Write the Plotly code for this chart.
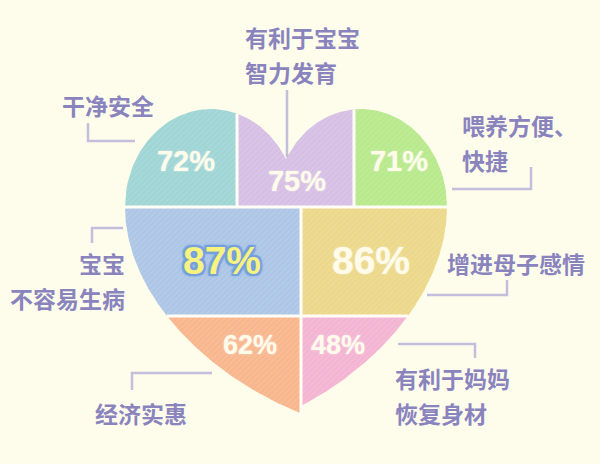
import numpy as np
import plotly.graph_objects as go

# 数据
categories = ["干净安全", "有利于宝宝<br>智力发育", "喂养方便、<br>快捷", "宝宝<br>不容易生病",
              "增进母子感情", "经济实惠", "有利于妈妈<br>恢复身材"]
values = [72, 75, 71, 87, 86, 62, 48]
colors = ["#9fd5d5", "#d6bfe4", "#b8e98c", "#adc6e6", "#ecd88a", "#f8b68d", "#f3b4d2"]

BG = "#fefdec"
GAP = "#fffef6"
TEXT = "#8a84be"
LINE = "#c3bedc"

# 心形几何（像素坐标）
ROW1, ROW2 = 207, 316
COL_A, COL_B, COL_MID = 237, 354, 301
AXIS = 286


def top_y(x):
    cx = np.where(x < AXIS, 211, 361)
    return ROW1 - 98 * np.sqrt(np.clip(1 - ((x - cx) / 86) ** 2, 0, 1))


def bez(p0, p1, p2, p3, n=120):
    t = np.linspace(0, 1, n)[:, None]
    p0, p1, p2, p3 = map(np.array, (p0, p1, p2, p3))
    return (1 - t) ** 3 * p0 + 3 * (1 - t) ** 2 * t * p1 + 3 * (1 - t) * t ** 2 * p2 + t ** 3 * p3


left = bez((125, ROW1), (125, 290), (200, 372), (300, 413))
right = bez((447, ROW1), (447, 285), (385, 362), (301, 406))


def xl(y):
    return np.interp(y, left[:, 1], left[:, 0])


def xr(y):
    return np.interp(y, right[:, 1], right[:, 0])


def top_region(x0, x1):
    xs = np.linspace(x0, x1, 80)
    return list(xs) + [x1, x0], list(top_y(xs)) + [ROW1, ROW1]


def left_region(y0, y1):
    ys = np.linspace(y0, y1, 80)
    return list(xl(ys)) + [COL_MID, COL_MID], list(ys) + [y1, y0]


def right_region(y0, y1):
    ys = np.linspace(y0, y1, 80)
    return list(xr(ys)) + [COL_MID, COL_MID], list(ys) + [y1, y0]


regions = [
    top_region(125, COL_A),
    top_region(COL_A, COL_B),
    top_region(COL_B, 447),
    left_region(ROW1, ROW2),
    right_region(ROW1, ROW2),
    left_region(ROW2, 413),
    right_region(ROW2, 406),
]
label_pos = [(186, 164), (297, 184), (399, 164), (222, 264), (371, 264), (250, 347), (338, 347)]
label_size = [29, 29, 29, 39, 39, 27, 27]

fig = go.Figure()
for (xs, ys), c in zip(regions, colors):
    fig.add_trace(go.Scatter(
        x=xs, y=ys, mode="lines", fill="toself", line=dict(width=0),
        fillcolor=c,
        fillpattern=dict(shape="/", bgcolor=c, fgcolor="white", fgopacity=0.12, size=4, solidity=0.3),
        hoverinfo="skip", showlegend=False,
    ))

# 分隔白线
dividers = [
    ([125, 447], [ROW1, ROW1]),
    ([float(xl(ROW2)), float(xr(ROW2))], [ROW2, ROW2]),
    ([COL_A, COL_A], [float(top_y(np.array(COL_A))), ROW1]),
    ([COL_B, COL_B], [float(top_y(np.array(COL_B))), ROW1]),
    ([COL_MID, COL_MID], [ROW1, 416]),
]
for xs, ys in dividers:
    fig.add_trace(go.Scatter(x=xs, y=ys, mode="lines", line=dict(color=GAP, width=3),
                             hoverinfo="skip", showlegend=False))

# 百分比
for i, v in enumerate(values):
    x, y = label_pos[i]
    if v == max(values):
        b = "#76a0dc"
        font = dict(family="Liberation Sans, Arial", size=label_size[i], color="#f8f27e", weight="bold",
                    shadow=f"2px 0 1px {b}, -2px 0 1px {b}, 0 2px 1px {b}, 0 -2px 1px {b}, "
                           f"2px 2px 1px {b}, -2px -2px 1px {b}, 2px -2px 1px {b}, -2px 2px 1px {b}, 0 0 5px {b}")
    else:
        font = dict(family="Liberation Sans, Arial", size=label_size[i], color="#fffbea", weight="bold",
                    shadow="0 0 2px rgba(255,255,255,0.6)")
    fig.add_trace(go.Scatter(x=[x], y=[y], mode="text", text=[f"{v}%"], textposition="middle center",
                             textfont=font, hoverinfo="skip", showlegend=False))

# 标签
label_xy = [(60, 105, "left"), (243, 37, "left"), (460, 125, "left"), (127, 263, "right"),
            (445, 263, "left"), (93, 413, "left"), (393, 378, "left")]
for cat, (x, y, anchor) in zip(categories, label_xy):
    for k, line in enumerate(cat.split("<br>")):
        fig.add_annotation(x=x, y=y + k * 35, text=line, showarrow=False, xanchor=anchor, yanchor="middle",
                           font=dict(family="Noto Sans CJK SC", size=23, color=TEXT, weight="bold"))

# 引导线
leaders = [
    [(88, 123), (88, 141), (135, 141)],
    [(287, 90), (287, 157)],
    [(531, 167), (531, 189), (452, 189)],
    [(123, 228), (92, 228), (92, 243)],
    [(427, 295), (507, 295), (507, 280)],
    [(132, 390), (132, 373), (212, 373)],
    [(398, 344), (475, 344), (475, 358)],
]
for pts in leaders:
    fig.add_trace(go.Scatter(x=[p[0] for p in pts], y=[p[1] for p in pts], mode="lines",
                             line=dict(color=LINE, width=2.5), hoverinfo="skip", showlegend=False))

fig.update_layout(
    width=600, height=464, margin=dict(l=0, r=0, t=0, b=0),
    paper_bgcolor=BG, plot_bgcolor=BG,
    xaxis=dict(range=[0, 600], visible=False, fixedrange=True),
    yaxis=dict(range=[464, 0], visible=False, fixedrange=True),
)
fig.write_html("out.html", config={"displayModeBar": False},
               post_script="document.body.style.margin='0';document.body.style.overflow='hidden';")
